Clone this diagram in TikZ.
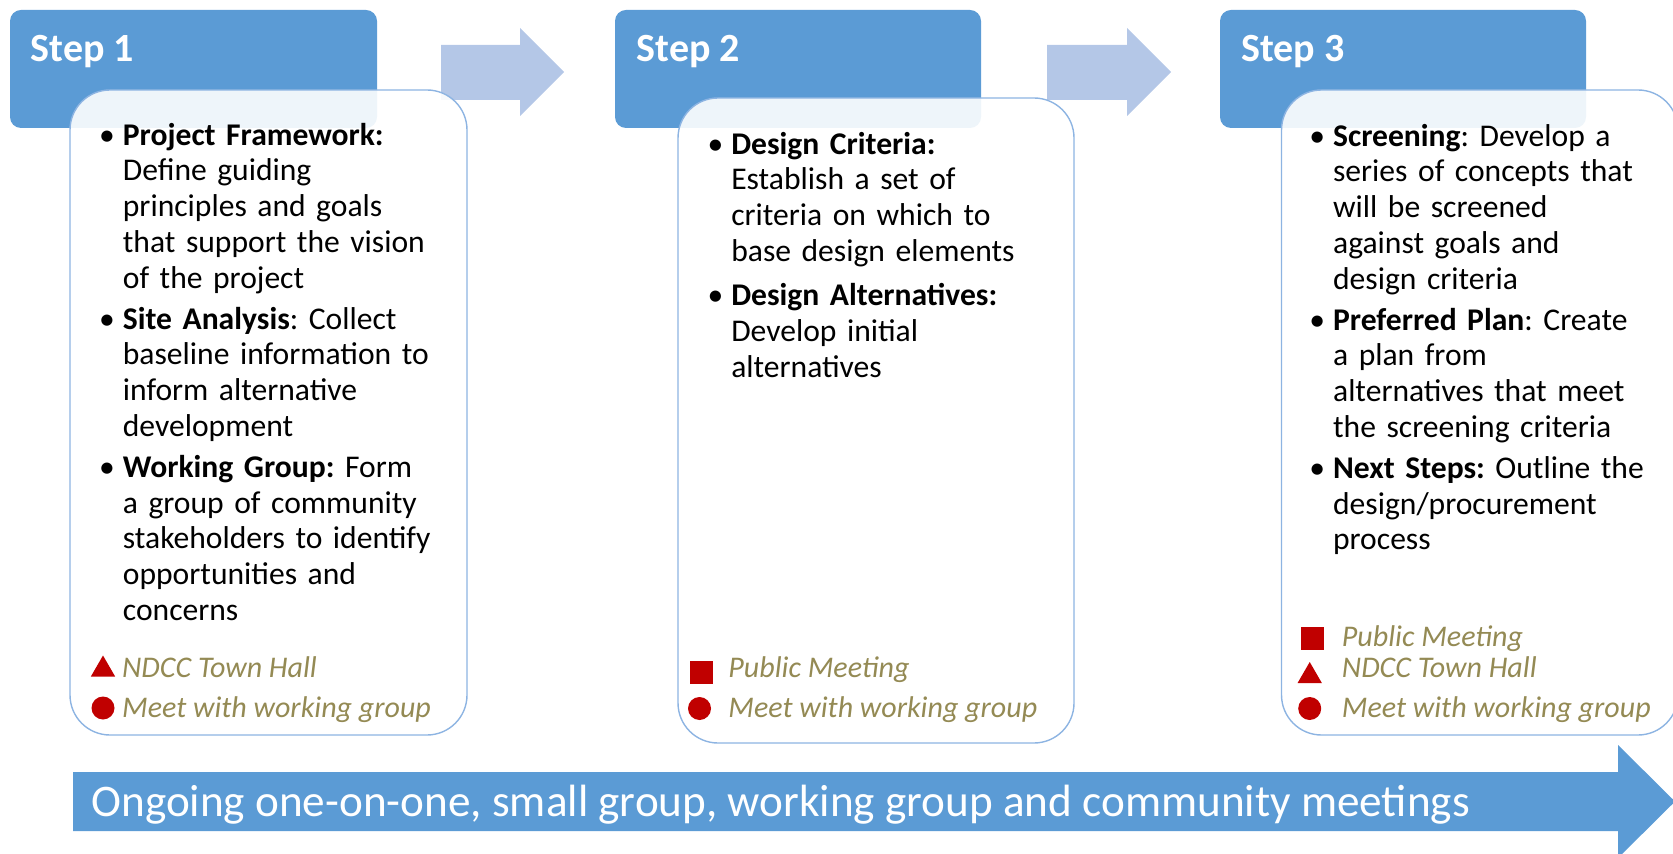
\documentclass[tikz,border=0pt]{standalone}
\usepackage{fontspec}
\setmainfont{Carlito}
\usepackage{enumitem}
\usetikzlibrary{shapes.geometric}
\frenchspacing

\definecolor{stepblue}{RGB}{91,155,213}
\definecolor{arrowblue}{RGB}{180,199,231}
\definecolor{boxline}{RGB}{141,180,226}
\definecolor{legendolive}{RGB}{148,138,84}
\definecolor{markred}{RGB}{192,0,0}

\tikzset{
  stephead/.style={fill=stepblue, rounded corners=5.5pt},
  steptitle/.style={anchor=base west, inner sep=0pt, text=white, font=\fontsize{20}{23}\selectfont\bfseries},
  stepbox/.style={draw=boxline, line width=0.7pt, fill=white, fill opacity=0.9, rounded corners=20pt},
  nextarrow/.style={fill=arrowblue},
  steplist/.style={anchor=north west, inner sep=0pt, text width=190pt, align=left, font=\fontsize{15.8}{17.9}\selectfont},
  legendlabel/.style={anchor=base west, inner sep=0pt, text=legendolive, font=\fontsize{15}{18}\selectfont\itshape},
  sqsym/.style={fill=markred, minimum size=11.5pt, inner sep=0pt},
  dotsym/.style={circle, fill=markred, minimum size=11.5pt, inner sep=0pt},
  trisym/.style={regular polygon, regular polygon sides=3, fill=markred, minimum size=14pt, inner sep=0pt}
}
\setlist[itemize]{label=\textbullet, leftmargin=12pt, labelsep=4pt, topsep=0pt, partopsep=0pt, parsep=0pt}
\newcommand{\firstline}{\rule{0pt}{13pt}}

\begin{document}
\begin{tikzpicture}[x=0.5pt,y=-0.5pt]
  \useasboundingbox (0,0) rectangle (1673,854);

  % Kopfleisten
  \fill[stephead] (10,10) rectangle (377,128);
  \fill[stephead] (615,10) rectangle (981,128);
  \fill[stephead] (1220,10) rectangle (1586,128);
  \node[steptitle] (title1) at (30.6,61.7) {Step 1};
  \node[steptitle] (title2) at (636.4,61.7) {Step 2};
  \node[steptitle] (title3) at (1240.7,61.7) {Step 3};

  % Pfeile zwischen den Schritten
  \fill[nextarrow] (441,45) -- (520,45) -- (520,28) -- (564,72) -- (520,116) -- (520,100) -- (441,100) -- cycle;
  \fill[nextarrow] (1047,45) -- (1127,45) -- (1127,28) -- (1171,72) -- (1127,116) -- (1127,100) -- (1047,100) -- cycle;

  % Kaesten
  \filldraw[stepbox] (70,90) rectangle (467,735);
  \filldraw[stepbox] (678,98) rectangle (1074,743);
  \filldraw[stepbox] (1281.5,90) rectangle (1678,735);

  % Schritt 1
  \node[steplist] (list1) at (98.5,109) {%
    \begin{itemize}[itemsep=2.5pt]
      \item \firstline\textbf{Project Framework:}\newline Define guiding\newline principles and goals\newline that support the vision\newline of the project
      \item \textbf{Site Analysis}: Collect\newline baseline information to\newline inform alternative\newline development
      \item \textbf{Working Group:} Form\newline a group of community\newline stakeholders to identify\newline opportunities and\newline concerns
    \end{itemize}};
  \node[trisym] (tri1) at (103,669.5) {};
  \node[legendlabel] (town1) at (121.7,677) {NDCC Town Hall};
  \node[dotsym] (dot1) at (103,708) {};
  \node[legendlabel] (meet1) at (121.7,717) {Meet with working group};

  % Schritt 2
  \node[steplist] (list2) at (706.9,118) {%
    \begin{itemize}[itemsep=4.3pt]
      \item \firstline\textbf{Design Criteria:}\newline Establish a set of\newline criteria on which to\newline base design elements
      \item \textbf{Design Alternatives:}\newline Develop initial\newline alternatives
    \end{itemize}};
  \node[sqsym] (sq2) at (701,672) {};
  \node[legendlabel] (public2) at (728,677) {Public Meeting};
  \node[dotsym] (dot2) at (699.5,708.5) {};
  \node[legendlabel] (meet2) at (728,717) {Meet with working group};

  % Schritt 3
  \node[steplist] (list3) at (1308.7,110) {%
    \begin{itemize}[itemsep=2.5pt]
      \item \firstline\textbf{Screening}: Develop a\newline series of concepts that\newline will be screened\newline against goals and\newline design criteria
      \item \textbf{Preferred Plan}: Create\newline a plan from\newline alternatives that meet\newline the screening criteria
      \item \textbf{Next Steps:} Outline the\newline design/procurement\newline process
    \end{itemize}};
  \node[sqsym] (sq3) at (1312,638) {};
  \node[legendlabel] (public3) at (1341.5,646.7) {Public Meeting};
  \node[trisym] (tri3) at (1309.7,676) {};
  \node[legendlabel] (town3) at (1341.5,677) {NDCC Town Hall};
  \node[dotsym] (dot3) at (1309.7,708.5) {};
  \node[legendlabel] (meet3) at (1341.5,717) {Meet with working group};

  % Laufender Prozess
  \fill[stepblue] (73,772) -- (1618,772) -- (1618,745) -- (1675,801.5) -- (1618,858) -- (1618,831) -- (73,831) -- cycle;
  \node[anchor=base west, inner sep=0pt, text=white, font=\fontsize{22.6}{26}\selectfont] (ongoing) at (91,816.7)
    {Ongoing one-on-one, small group, working group and community meetings};
\end{tikzpicture}
\end{document}
